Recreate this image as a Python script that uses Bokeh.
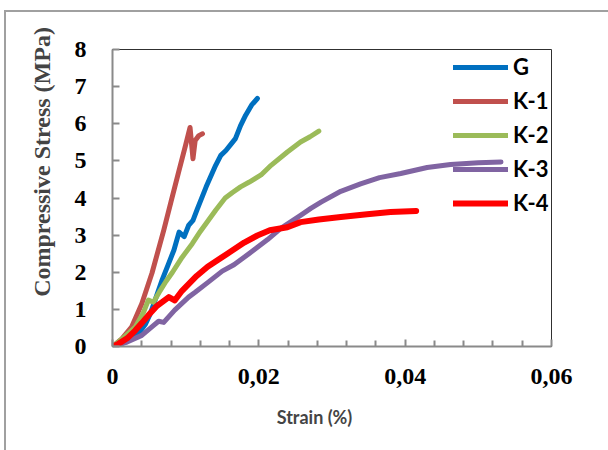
from bokeh.plotting import figure
from bokeh.models import (Range1d, FixedTicker, CustomJSTickFormatter, Legend, LegendItem)
from bokeh.embed import file_html
from bokeh.resources import INLINE

# ---- data (strain, stress) ----
g_x = [0, 0.0010, 0.0020, 0.0036, 0.0045, 0.0052, 0.0060, 0.0068, 0.0076, 0.0084, 0.0091, 0.0098,
       0.0104, 0.0110, 0.0116, 0.0128, 0.0141, 0.0148, 0.0155, 0.0162, 0.0168, 0.0175, 0.0182,
       0.0190, 0.0198]
g_y = [0, 0.05, 0.15, 0.36, 0.60, 0.90, 1.35, 1.80, 2.20, 2.60, 3.08, 2.96,
       3.26, 3.40, 3.71, 4.30, 4.88, 5.15, 5.28, 5.45, 5.60, 5.95, 6.23,
       6.50, 6.68]

k1_x = [0, 0.0013, 0.0026, 0.0040, 0.0054, 0.0070, 0.0080, 0.0090, 0.0100, 0.0106, 0.0110,
        0.0113, 0.0118, 0.0123]
k1_y = [0, 0.21, 0.52, 1.15, 1.98, 3.13, 3.90, 4.67, 5.43, 5.90, 5.06,
        5.55, 5.68, 5.73]

k2_x = [0, 0.0013, 0.0031, 0.0042, 0.0049, 0.0056, 0.0065, 0.0073, 0.0082, 0.0095, 0.0109,
        0.0120, 0.0141, 0.0154, 0.0164, 0.0175, 0.0187, 0.0203, 0.0215, 0.0239, 0.0257,
        0.0270, 0.0282]
k2_y = [0, 0.20, 0.52, 0.90, 1.25, 1.19, 1.50, 1.75, 2.00, 2.40, 2.77,
        3.10, 3.67, 4.00, 4.15, 4.30, 4.43, 4.62, 4.85, 5.24, 5.51,
        5.65, 5.80]

k3_x = [0, 0.0020, 0.0040, 0.0055, 0.0063, 0.0070, 0.0085, 0.0104, 0.0113, 0.0130, 0.0150,
        0.0166, 0.0190, 0.0212, 0.0230, 0.0257, 0.0271, 0.0285, 0.0312, 0.0339, 0.0365,
        0.0394, 0.0430, 0.0462, 0.0500, 0.0531]
k3_y = [0, 0.12, 0.30, 0.55, 0.68, 0.65, 0.98, 1.33, 1.46, 1.72, 2.03,
        2.20, 2.55, 2.88, 3.18, 3.53, 3.72, 3.89, 4.18, 4.38, 4.55,
        4.66, 4.82, 4.90, 4.95, 4.97]

k4_x = [0, 0.0008, 0.0020, 0.0031, 0.0040, 0.0049, 0.0060, 0.0077, 0.0085, 0.0095, 0.0115,
        0.0130, 0.0157, 0.0180, 0.0198, 0.0215, 0.0239, 0.0257, 0.0282, 0.0312, 0.0348,
        0.0380, 0.0415]
k4_y = [0, 0.07, 0.22, 0.43, 0.63, 0.84, 1.08, 1.33, 1.24, 1.50, 1.90,
        2.15, 2.50, 2.80, 2.99, 3.13, 3.21, 3.35, 3.42, 3.49, 3.56,
        3.62, 3.65]

series_names = ["G", "K-1", "K-2", "K-3", "K-4"]
series_colors = ["#0070C0", "#C0504D", "#9BBB59", "#8064A2", "#FF0000"]

x_major_ticks = [0, 0.02, 0.04, 0.06]
x_minor_ticks = [0.004, 0.008, 0.012, 0.016, 0.024, 0.028, 0.032, 0.036,
                 0.044, 0.048, 0.052, 0.056]
y_ticks = [0, 1, 2, 3, 4, 5, 6, 7, 8]

NB = "\u00a0"

p = figure(width=608, height=450, output_backend="svg", toolbar_location=None,
           x_range=Range1d(0, 0.06), y_range=Range1d(0, 8),
           min_border_left=112, min_border_right=57, min_border_top=49, min_border_bottom=104)
p.xgrid.visible = False
p.ygrid.visible = False
p.background_fill_color = "white"
p.border_fill_alpha = 0
p.outline_line_color = "#303030"
p.outline_line_width = 1

# chart-area border (left and top edges), painted on the page behind the transparent border area
p.styles = {
    "background-color": "white",
    "background-image": "linear-gradient(#a0a0a0, #a0a0a0), linear-gradient(#a0a0a0, #a0a0a0)",
    "background-position": "4px 10px, 4px 10px",
    "background-size": "2px 100%, 100% 2px",
    "background-repeat": "no-repeat, no-repeat",
}

serif = "Liberation Serif"
sans = "Lato"

for ax in (p.xaxis[0], p.yaxis[0]):
    ax.axis_line_color = "#8a8a8a"
    ax.axis_line_width = 2
    ax.major_tick_line_color = "#8a8a8a"
    ax.major_tick_line_width = 2
    ax.minor_tick_line_color = "#8a8a8a"
    ax.minor_tick_line_width = 2
    ax.major_tick_in = 7
    ax.major_tick_out = 0
    ax.minor_tick_in = 6
    ax.minor_tick_out = 0
    ax.major_label_text_font = serif
    ax.major_label_text_font_style = "bold"
    ax.major_label_text_font_size = "24px"
    ax.major_label_text_color = "black"

p.xaxis.ticker = FixedTicker(ticks=x_major_ticks, minor_ticks=x_minor_ticks)
p.yaxis.ticker = FixedTicker(ticks=y_ticks, minor_ticks=[])
p.xaxis.formatter = CustomJSTickFormatter(code="""
    if (Math.abs(tick) < 1e-12) return '0';
    return tick.toFixed(2).replace('.', ',');
""")
p.yaxis.formatter = CustomJSTickFormatter(code="return tick.toFixed(0);")
p.xaxis.major_label_standoff = 22
p.yaxis.major_label_standoff = 26

p.xaxis.axis_label = "Strain (%)" + NB * 8
p.xaxis.axis_label_text_font = sans
p.xaxis.axis_label_text_font_style = "bold"
p.xaxis.axis_label_text_font_size = "18px"
p.xaxis.axis_label_standoff = 19
p.yaxis.axis_label = NB * 13 + "Compressive Stress  (MPa)"
p.yaxis.axis_label_text_font = serif
p.yaxis.axis_label_text_font_style = "bold"
p.yaxis.axis_label_text_font_size = "24px"
p.yaxis.axis_label_standoff = 17

data = [(g_x, g_y), (k1_x, k1_y), (k2_x, k2_y), (k3_x, k3_y), (k4_x, k4_y)]
items = []
for (xs, ys), name, col in zip(data, series_names, series_colors):
    lw = 6 if name == "K-4" else 5
    r = p.line(xs, ys, line_color=col, line_width=lw, line_cap="round", line_join="round")
    items.append(LegendItem(label=name, renderers=[r]))

legend = Legend(items=items, location=(341, 130), orientation="vertical",
                glyph_width=55, glyph_height=20, label_height=20, spacing=7,
                label_standoff=5, padding=0, margin=0,
                label_text_font=sans, label_text_font_style="bold",
                label_text_font_size="22px", label_text_color="black",
                border_line_color=None, background_fill_alpha=0)
p.add_layout(legend, "center")

open("out.html", "w").write(file_html(p, INLINE))
